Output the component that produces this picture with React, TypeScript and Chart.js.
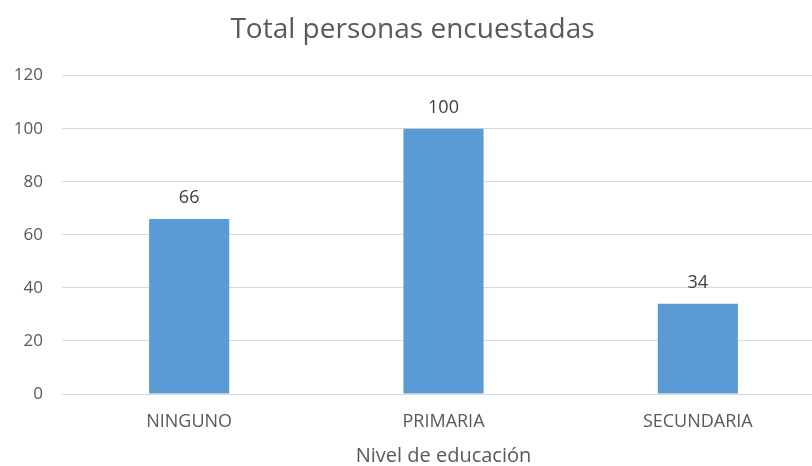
import React, { useEffect, useRef } from "react";
import { Chart, registerables } from "chart.js";

Chart.register(...registerables);

const categories = ["NINGUNO", "PRIMARIA", "SECUNDARIA"];
const values = [66, 100, 34];
const yTicks = [0, 20, 40, 60, 80, 100, 120];
const chartTitle = "Total personas encuestadas";
const xTitle = "Nivel de educación";

const FONT = "'Open Sans', sans-serif";
const TEXT = "#595959";

const dataLabels = {
  id: "dataLabels",
  afterDatasetsDraw(chart: any) {
    const ctx = chart.ctx;
    const meta = chart.getDatasetMeta(0);
    ctx.save();
    ctx.font = `18px ${FONT}`;
    ctx.fillStyle = "#404040";
    ctx.textAlign = "center";
    ctx.textBaseline = "middle";
    meta.data.forEach((bar: any, i: number) => {
      ctx.fillText(String(chart.data.datasets[0].data[i]), bar.x, bar.y - 21);
    });
    ctx.restore();
  },
};

export default function App() {
  const ref = useRef<HTMLCanvasElement>(null);
  useEffect(() => {
    if (!ref.current) return;
    const chart = new Chart(ref.current, {
      type: "bar",
      data: {
        labels: categories,
        datasets: [
          {
            data: values,
            backgroundColor: "#5B9BD5",
            categoryPercentage: 1,
            barPercentage: 0.315,
          },
        ],
      },
      plugins: [dataLabels],
      options: {
        responsive: false,
        animation: false,
        devicePixelRatio: 1,
        layout: { padding: { left: 0, right: 19, top: 0, bottom: 0 } },
        plugins: {
          legend: { display: false },
          tooltip: { enabled: false },
          title: {
            display: true,
            text: chartTitle,
            color: TEXT,
            font: { family: FONT, size: 28, weight: "normal" as any, lineHeight: 1.2 },
            padding: { top: 13, bottom: 29 },
          },
        },
        scales: {
          x: {
            grid: { display: false, drawTicks: false },
            border: { display: false },
            ticks: {
              color: TEXT,
              font: { family: FONT, size: 18 },
              padding: 17,
              maxRotation: 0,
            },
            title: {
              display: true,
              text: xTitle,
              color: TEXT,
              font: { family: FONT, size: 20, lineHeight: 1 },
              padding: { top: 0, bottom: 0 },
            },
            afterFit: (s: any) => {
              s.height = 72;
            },
          },
          y: {
            min: 0,
            max: 120,
            afterBuildTicks: (s: any) => {
              s.ticks = yTicks.map((v) => ({ value: v }));
            },
            grid: { color: "#D9D9D9", lineWidth: 1, drawTicks: false },
            border: { display: false },
            ticks: {
              color: TEXT,
              font: { family: FONT, size: 17 },
              padding: 19,
            },
            afterFit: (s: any) => {
              s.width = 62;
            },
          },
        },
      },
    });
    return () => chart.destroy();
  }, []);
  return (
    <div
      style={{
        position: "fixed",
        left: 0,
        top: 0,
        width: 812,
        height: 466,
        overflow: "hidden",
        background: "#fff",
      }}
    >
      <canvas ref={ref} width={844} height={466} style={{ display: "block" }} />
    </div>
  );
}
